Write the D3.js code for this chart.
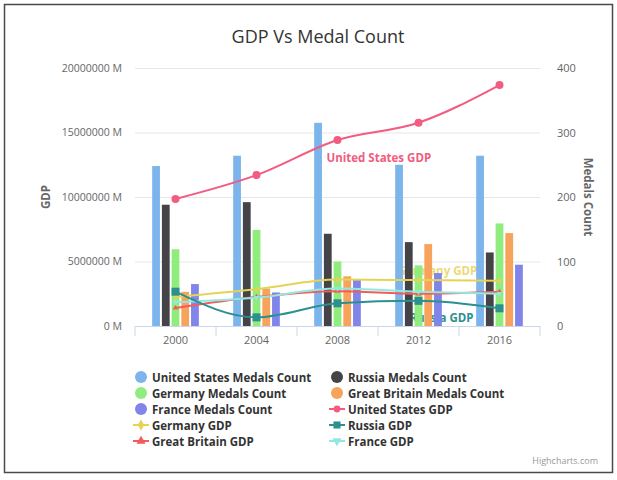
<!DOCTYPE html>
<html>
<head>
<meta charset="utf-8">
<script src="https://cdn.jsdelivr.net/npm/d3@7"></script>
<style>
  html, body { margin: 0; padding: 0; background: #fff; }
  svg { display: block; font-family: "Open Sans", "DejaVu Sans", sans-serif; }
</style>
</head>
<body>
<svg id="chart" width="617" height="480"></svg>
<script>
// ---- data ----
const years = ["2000", "2004", "2008", "2012", "2016"];

const medalSeriesNames = [
  "United States Medals Count", "Russia Medals Count", "Germany Medals Count",
  "Great Britain Medals Count", "France Medals Count"
];
const usMedals      = [248, 264, 315, 250, 264];
const russiaMedals  = [188, 192, 143, 130, 114];
const germanyMedals = [119, 149, 100, 94, 159];
const gbMedals      = [53, 58, 77, 127, 144];
const franceMedals  = [65, 52, 72, 82, 95];

const gdpSeriesNames = [
  "United States GDP", "Germany GDP", "Russia GDP", "Great Britain GDP", "France GDP"
];
const usGdp      = [9850000, 11700000, 14420000, 15760000, 18680000];
const germanyGdp = [2250000, 2850000, 3600000, 3560000, 3500000];
const russiaGdp  = [2660000, 670000, 1760000, 1950000, 1370000];
const gbGdp      = [1400000, 2250000, 2700000, 2500000, 2650000];
const franceGdp  = [1850000, 2200000, 2900000, 2650000, 2500000];

const gdpTicks   = [0, 5000000, 10000000, 15000000, 20000000];
const medalTicks = [0, 100, 200, 300, 400];

// ---- look ----
const palette = ["#7cb5ec", "#434348", "#90ed7d", "#f7a35c", "#8085e9",
                 "#f15c80", "#e4d354", "#2b908f", "#f45b5b", "#91e8e1"];

const medalSeries = [usMedals, russiaMedals, germanyMedals, gbMedals, franceMedals]
  .map((v, i) => ({ name: medalSeriesNames[i], values: v, color: palette[i] }));
const gdpSeries = [usGdp, germanyGdp, russiaGdp, gbGdp, franceGdp]
  .map((v, i) => ({ name: gdpSeriesNames[i], values: v, color: palette[5 + i] }));
// marker shape per line series, as in the legend
const gdpMarkers = [d3.symbolCircle, d3.symbolDiamond, d3.symbolSquare, d3.symbolTriangle, d3.symbolTriangle];
const gdpMarkerFlip = [false, false, false, false, true];
const gdpMarkerSize = [50, 14, 64, 14, 14];

const svg = d3.select("#chart");

// outer frame
svg.append("rect").attr("x", 4.5).attr("y", 4.5).attr("width", 608).attr("height", 468)
  .attr("fill", "#fff").attr("stroke", "#4a4a4a").attr("stroke-width", 1.5);

const plot = { left: 135, right: 540, top: 68, bottom: 326 };

const x = d3.scaleBand().domain(years).range([plot.left, plot.right]);
const xInner = d3.scaleBand().domain(medalSeriesNames)
  .range([x.bandwidth() * 0.2, x.bandwidth() * 0.8])
  .paddingInner(0.2).paddingOuter(0.1);
const yGdp = d3.scaleLinear().domain([0, 20000000]).range([plot.bottom, plot.top]);
const yMed = d3.scaleLinear().domain([0, 400]).range([plot.bottom, plot.top]);

// title
svg.append("text").attr("x", 318).attr("y", 43).attr("text-anchor", "middle")
  .attr("font-size", 18).attr("fill", "#333").text("GDP Vs Medal Count");

// gridlines
svg.append("g").attr("transform", `translate(${plot.left},0)`)
  .call(d3.axisLeft(yGdp).tickValues(gdpTicks).tickSize(-(plot.right - plot.left)).tickFormat(""))
  .call(g => g.select(".domain").remove())
  .call(g => g.selectAll("line").attr("stroke", "#e6e6e6"));

// left axis labels
svg.append("g").attr("transform", `translate(${plot.left - 13},0)`)
  .call(d3.axisLeft(yGdp).tickValues(gdpTicks).tickSize(0).tickPadding(0).tickFormat(d => d + " M"))
  .call(g => g.select(".domain").remove())
  .call(g => g.selectAll("text").attr("fill", "#666").attr("font-size", 10.5)
    .attr("font-family", "Open Sans, sans-serif"));

// right axis labels
svg.append("g").attr("transform", `translate(${plot.right + 17},0)`)
  .call(d3.axisRight(yMed).tickValues(medalTicks).tickSize(0).tickPadding(0))
  .call(g => g.select(".domain").remove())
  .call(g => g.selectAll("text").attr("fill", "#666").attr("font-size", 11)
    .attr("font-family", "Open Sans, sans-serif"));

// axis titles
svg.append("text").attr("transform", `translate(50,${(plot.top + plot.bottom) / 2}) rotate(-90)`)
  .attr("text-anchor", "middle").attr("font-size", 11.5).attr("font-weight", "bold")
  .attr("fill", "#666").text("GDP");
svg.append("text").attr("transform", `translate(584,${(plot.top + plot.bottom) / 2}) rotate(90)`)
  .attr("text-anchor", "middle").attr("font-size", 11.5).attr("font-weight", "bold")
  .attr("fill", "#666").text("Medals Count");

// x axis
const xAxisG = svg.append("g").attr("transform", `translate(0,${plot.bottom})`);
xAxisG.call(d3.axisBottom(x).tickSize(0).tickPadding(10))
  .call(g => g.select(".domain").attr("stroke", "#ccd6eb"))
  .call(g => g.selectAll("text").attr("fill", "#666").attr("font-size", 11)
    .attr("font-family", "Open Sans, sans-serif"));
// tick marks between categories
xAxisG.selectAll("line.between")
  .data(years.map(d => x(d)).concat([x(years[years.length - 1]) + x.bandwidth()]))
  .join("line").attr("class", "between")
  .attr("x1", d => d).attr("x2", d => d).attr("y1", 0).attr("y2", 10)
  .attr("stroke", "#ccd6eb");

// series labels, painted under the columns
const labelLayer = svg.append("g");
function seriesLabel(txt, color, xPos, yPos, opacity) {
  labelLayer.append("text").attr("x", xPos).attr("y", yPos)
    .attr("font-size", 11.5).attr("font-weight", "bold")
    .attr("fill", color).attr("opacity", opacity)
    .attr("stroke", "#fff").attr("stroke-width", 2).attr("paint-order", "stroke")
    .text(txt);
}
const xc = d => x(d) + x.bandwidth() / 2;
seriesLabel(gdpSeries[0].name, gdpSeries[0].color, xc("2008") - 11, yGdp(usGdp[2]) + 22, 1);
seriesLabel(gdpSeries[1].name, gdpSeries[1].color, xc("2012") - 21, yGdp(germanyGdp[3]) - 5, 0.8);
seriesLabel(gdpSeries[2].name, gdpSeries[2].color, xc("2012") - 9, yGdp(russiaGdp[3]) + 21, 1);

// columns
const colG = svg.append("g");
years.forEach((yr, i) => {
  medalSeries.forEach(s => {
    colG.append("rect")
      .attr("x", x(yr) + xInner(s.name))
      .attr("y", yMed(s.values[i]))
      .attr("width", xInner.bandwidth())
      .attr("height", yMed(0) - yMed(s.values[i]))
      .attr("fill", s.color);
  });
});

// GDP lines
const lineGen = d3.line().x((d, i) => xc(years[i])).y(d => yGdp(d)).curve(d3.curveMonotoneX);
const drawOrder = [1, 3, 4, 2, 0];
drawOrder.forEach(k => {
  const s = gdpSeries[k];
  svg.append("path").attr("d", lineGen(s.values)).attr("fill", "none")
    .attr("stroke", s.color).attr("stroke-width", 2);
  svg.append("g").selectAll("path").data(s.values).join("path")
    .attr("d", d3.symbol().type(gdpMarkers[k]).size(gdpMarkerSize[k]))
    .attr("transform", (d, i) => `translate(${xc(years[i])},${yGdp(d)})${gdpMarkerFlip[k] ? " rotate(180)" : ""}`)
    .attr("fill", s.color);
});

// legend
const legendItems = medalSeries.map(s => ({ ...s, kind: "column" }))
  .concat(gdpSeries.map((s, k) => ({ ...s, kind: "line", k })));
const legend = svg.append("g");
legendItems.forEach((item, i) => {
  const col = i % 2, row = Math.floor(i / 2);
  const gx = col === 0 ? 141 : 337;
  const gy = 377 + row * 16;
  const g = legend.append("g").attr("transform", `translate(${gx},${gy})`);
  if (item.kind === "column") {
    g.append("circle").attr("r", 6).attr("fill", item.color);
  } else {
    g.append("line").attr("x1", -8).attr("x2", 8).attr("stroke", item.color).attr("stroke-width", 2);
    g.append("path")
      .attr("d", d3.symbol().type(gdpMarkers[item.k]).size(item.k === 2 ? 50 : 36))
      .attr("transform", gdpMarkerFlip[item.k] ? "rotate(180)" : null)
      .attr("fill", item.color);
  }
  g.append("text").attr("x", 11).attr("y", 4.5).attr("font-size", 11.5).attr("font-weight", "bold")
    .attr("fill", "#333").text(item.name);
});

// credits
svg.append("text").attr("x", 598).attr("y", 464).attr("text-anchor", "end")
  .attr("font-size", 9).attr("fill", "#999").text("Highcharts.com");
</script>
</body>
</html>
